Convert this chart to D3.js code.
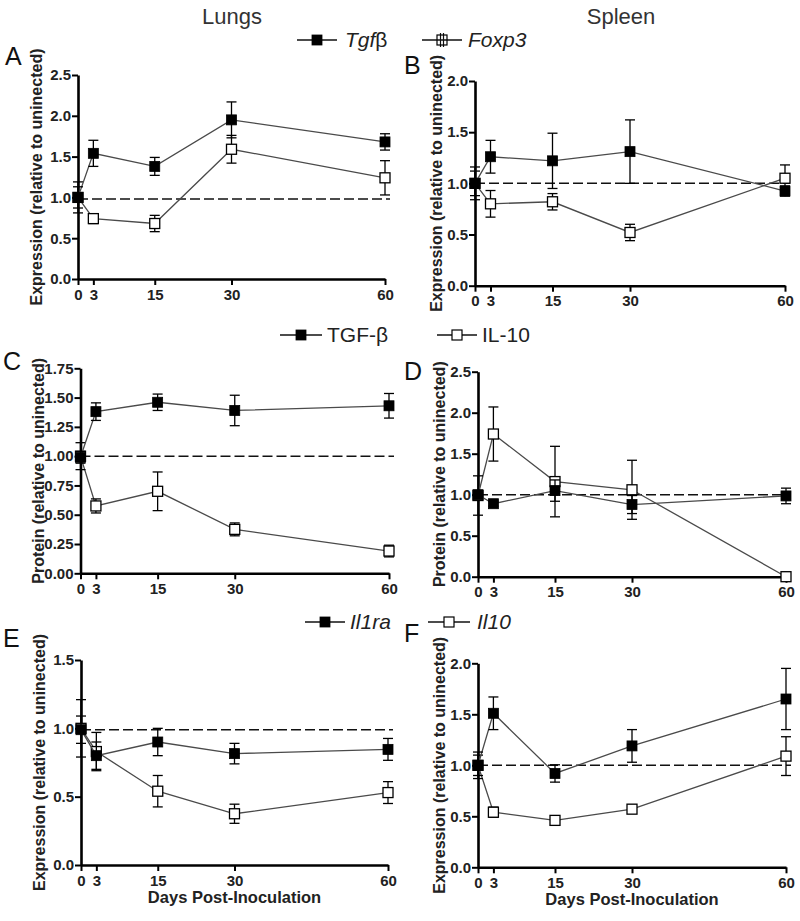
<!DOCTYPE html>
<html><head><meta charset="utf-8">
<script src="https://cdn.jsdelivr.net/npm/d3@7"></script>
<style>body{margin:0;background:#fff}svg{display:block}</style>
</head><body><svg id="c" width="800" height="921"></svg>
<script>
// ---------- DATA ----------
const days = [0, 3, 15, 30, 60];
const dayTicks = [0, 3, 15, 30, 60];

// Panel A – Lungs, mRNA
const aTgfbMean  = [1.00, 1.54, 1.38, 1.95, 1.68];
const aTgfbErr   = [0.13, 0.16, 0.11, 0.22, 0.10];
const aFoxp3Mean = [1.00, 0.74, 0.68, 1.59, 1.24];
const aFoxp3Err  = [0.19, 0.06, 0.10, 0.17, 0.21];
const aYTicks = [0, 0.5, 1.0, 1.5, 2.0, 2.5];

// Panel B – Spleen, mRNA
const bTgfbMean  = [1.00, 1.26, 1.22, 1.31, 0.925];
const bTgfbErr   = [0.12, 0.16, 0.27, 0.31, 0.05];
const bFoxp3Mean = [1.00, 0.80, 0.82, 0.52, 1.05];
const bFoxp3Err  = [0.16, 0.13, 0.08, 0.08, 0.13];
const bYTicks = [0, 0.5, 1.0, 1.5, 2.0];

// Panel C – Lungs, protein
const cTgfbMean = [0.99, 1.38, 1.46, 1.39, 1.43];
const cTgfbErr  = [0.05, 0.075, 0.07, 0.13, 0.105];
const cIl10Mean = [1.00, 0.575, 0.70, 0.375, 0.19];
const cIl10Err  = [0.115, 0.06, 0.165, 0.055, 0.05];
const cYTicks = [0, 0.25, 0.5, 0.75, 1.0, 1.25, 1.5, 1.75];

// Panel D – Spleen, protein
const dTgfbMean = [1.00, 0.89, 1.05, 0.88, 0.985];
const dTgfbErr  = [0.05, 0.03, 0.13, 0.11, 0.095];
const dIl10Mean = [0.99, 1.74, 1.16, 1.06, 0.0];
const dIl10Err  = [0.24, 0.33, 0.43, 0.36, 0.0];
const dYTicks = [0, 0.5, 1.0, 1.5, 2.0, 2.5];

// Panel E – Lungs, mRNA
const eIl1raMean = [0.99, 0.80, 0.90, 0.815, 0.846];
const eIl1raErr  = [0.10, 0.10, 0.10, 0.075, 0.08];
const eIl10Mean  = [1.00, 0.83, 0.54, 0.375, 0.53];
const eIl10Err   = [0.21, 0.14, 0.115, 0.07, 0.08];
const eYTicks = [0, 0.5, 1.0, 1.5];

// Panel F – Spleen, mRNA
const fIl1raMean = [1.00, 1.51, 0.92, 1.19, 1.65];
const fIl1raErr  = [0.13, 0.16, 0.085, 0.16, 0.30];
const fIl10Mean  = [1.00, 0.54, 0.46, 0.57, 1.09];
const fIl10Err   = [0.10, 0.05, 0.04, 0.04, 0.19];
const fYTicks = [0, 0.5, 1.0, 1.5, 2.0];

const refLines = [0.98, 1.0, 1.0, 1.0, 0.99, 1.0];
const panelLetters = ["A", "B", "C", "D", "E", "F"];
const columnTitles = ["Lungs", "Spleen"];
const yTitles = ["Expression (relative to uninected)", "Expression (relative to uninected)",
                 "Protein (relative to uninected)", "Protein (relative to uninected)",
                 "Expression (relative to uninected)", "Expression (relative to uninected)"];
const xTitle = "Days Post-Inoculation";

// ---------- LAYOUT ----------
const FONT = "'Liberation Sans', Arial, Helvetica, sans-serif";
const svg = d3.select("#c");

const panels = [
  {filled:[aTgfbMean,aTgfbErr], open:[aFoxp3Mean,aFoxp3Err], ticks:aYTicks, fmt:".1f",
   x0:78, x1:385, yb:279, yt:75, letter:[5,65]},
  {filled:[bTgfbMean,bTgfbErr], open:[bFoxp3Mean,bFoxp3Err], ticks:bYTicks, fmt:".1f",
   x0:475, x1:785, yb:285.7, yt:81, letter:[404,74]},
  {filled:[cTgfbMean,cTgfbErr], open:[cIl10Mean,cIl10Err], ticks:cYTicks, fmt:".2f",
   x0:80.5, x1:389, yb:573.3, yt:368.3, letter:[3,370]},
  {filled:[dTgfbMean,dTgfbErr], open:[dIl10Mean,dIl10Err], ticks:dYTicks, fmt:".1f",
   x0:478, x1:786, yb:576.7, yt:371.7, letter:[404,380]},
  {filled:[eIl1raMean,eIl1raErr], open:[eIl10Mean,eIl10Err], ticks:eYTicks, fmt:".1f",
   x0:81, x1:388, yb:865, yt:660, letter:[3,647], xt:true},
  {filled:[fIl1raMean,fIl1raErr], open:[fIl10Mean,fIl10Err], ticks:fYTicks, fmt:".1f",
   x0:478, x1:786, yb:867.3, yt:663.3, letter:[404,642], xt:true}
];

const LINE_COL = "#4a4a4a";
const SQ = 10, CAP = 10;

panels.forEach((p, i) => {
  const g = svg.append("g");
  const x = d3.scaleLinear().domain([0, 60]).range([p.x0, p.x1]);
  const ymax = p.ticks[p.ticks.length - 1];
  const y = d3.scaleLinear().domain([0, ymax]).range([p.yb, p.yt]);

  // reference dashed line
  g.append("line")
    .attr("x1", x(0)).attr("x2", x(60) + 5)
    .attr("y1", y(refLines[i])).attr("y2", y(refLines[i]))
    .attr("stroke", "#111").attr("stroke-width", 1.5)
    .attr("stroke-dasharray", "10,4");

  // axes
  const xa = g.append("g").attr("transform", `translate(0,${p.yb})`)
    .call(d3.axisBottom(x).tickValues(dayTicks).tickSize(6).tickPadding(4).tickSizeOuter(0));
  const ya = g.append("g").attr("transform", `translate(${p.x0},0)`)
    .call(d3.axisLeft(y).tickValues(p.ticks).tickFormat(d3.format(p.fmt)).tickSize(6).tickPadding(1).tickSizeOuter(0));
  [xa, ya].forEach(a => {
    a.select(".domain").attr("stroke", "#000").attr("stroke-width", 2.6);
    a.selectAll(".tick line").attr("stroke", "#000").attr("stroke-width", 2);
    a.selectAll(".tick text").attr("fill", "#222")
      .style("font-family", FONT).style("font-size", "15px").style("font-weight", "bold");
  });

  // y title
  g.append("text")
    .attr("transform", `translate(${p.x0 - (i % 2 ? 39 : 42)},${(p.yb + p.yt) / 2}) rotate(-90)`)
    .attr("text-anchor", "middle").attr("dominant-baseline", "central")
    .style("font-family", FONT).style("font-size", "16px").style("font-weight", "bold")
    .attr("fill", "#222").text(yTitles[i]);

  // x title
  if (p.xt) {
    g.append("text").attr("x", (p.x0 + p.x1) / 2).attr("y", p.yb + 38)
      .attr("text-anchor", "middle")
      .style("font-family", FONT).style("font-size", "16.5px").style("font-weight", "bold")
      .attr("fill", "#222").text(xTitle);
  }

  // panel letter
  g.append("text").attr("x", p.letter[0]).attr("y", p.letter[1])
    .style("font-family", FONT).style("font-size", "25px").attr("fill", "#111")
    .text(panelLetters[i]);

  // series: open first, then filled
  [[p.open, false], [p.filled, true]].forEach(([s, filled]) => {
    const mean = s[0], err = s[1];
    const pts = days.map((d, k) => ({d, m: mean[k], e: err[k]}));
    g.append("path").datum(pts)
      .attr("d", d3.line().x(q => x(q.d)).y(q => y(q.m)))
      .attr("fill", "none").attr("stroke", LINE_COL).attr("stroke-width", 1.3);
    const eb = g.append("g");
    pts.filter(q => q.e > 0).forEach(q => {
      const cx = x(q.d);
      eb.append("line").attr("x1", cx).attr("x2", cx)
        .attr("y1", y(q.m - q.e)).attr("y2", y(q.m + q.e))
        .attr("stroke", "#000").attr("stroke-width", 1.3);
      [q.m - q.e, q.m + q.e].forEach(v => {
        eb.append("line").attr("x1", cx - CAP / 2).attr("x2", cx + CAP / 2)
          .attr("y1", y(v)).attr("y2", y(v))
          .attr("stroke", "#000").attr("stroke-width", 1.3);
      });
    });
    g.selectAll(null).data(pts).enter().append("rect")
      .attr("x", q => x(q.d) - SQ / 2).attr("y", q => y(q.m) - SQ / 2)
      .attr("width", SQ).attr("height", SQ)
      .attr("fill", filled ? "#000" : "#fff")
      .attr("stroke", "#000").attr("stroke-width", filled ? 0.8 : 1.3);
  });
});

// column titles
[[232, columnTitles[0]], [621, columnTitles[1]]].forEach(([cx, t]) => {
  svg.append("text").attr("x", cx).attr("y", 24).attr("text-anchor", "middle")
    .style("font-family", FONT).style("font-size", "22px").attr("fill", "#333").text(t);
});

// legends
const legendItems = [
  {x1: 297, x2: 337, y: 40, filled: true,  text: "Tgf", suffix: "β", italic: true, tx: 345},
  {x1: 422, x2: 462, y: 40, filled: false, text: "Foxp3", italic: true, tx: 468, bars: true},
  {x1: 280, x2: 322, y: 335, filled: true, text: "TGF-β", italic: false, tx: 327},
  {x1: 437, x2: 477, y: 335, filled: false, text: "IL-10", italic: false, tx: 482},
  {x1: 305, x2: 345, y: 622, filled: true, text: "Il1ra", italic: true, tx: 350},
  {x1: 428, x2: 470, y: 622, filled: false, text: "Il10", italic: true, tx: 477}
];
legendItems.forEach(L => {
  const g = svg.append("g");
  const cx = (L.x1 + L.x2) / 2;
  g.append("line").attr("x1", L.x1).attr("x2", L.x2).attr("y1", L.y).attr("y2", L.y)
    .attr("stroke", "#111").attr("stroke-width", 1.3);
  if (L.bars) {
    g.append("line").attr("x1", cx - 1.5).attr("x2", cx - 1.5).attr("y1", L.y - 7).attr("y2", L.y + 7)
      .attr("stroke", "#111").attr("stroke-width", 1.2);
    g.append("line").attr("x1", cx + 1.5).attr("x2", cx + 1.5).attr("y1", L.y - 7).attr("y2", L.y + 7)
      .attr("stroke", "#111").attr("stroke-width", 1.2);
  }
  g.append("rect").attr("x", cx - 5).attr("y", L.y - 5).attr("width", 10).attr("height", 10)
    .attr("fill", L.filled ? "#000" : (L.bars ? "none" : "#fff"))
    .attr("stroke", "#000").attr("stroke-width", L.filled ? 0.8 : 1.2);
  const t = g.append("text").attr("x", L.tx).attr("y", L.y + 7)
    .style("font-family", FONT).style("font-size", "21px").attr("fill", "#222");
  t.append("tspan").style("font-style", L.italic ? "italic" : "normal").text(L.text);
  if (L.suffix) t.append("tspan").style("font-style", "normal").text(L.suffix);
});
</script></body></html>
